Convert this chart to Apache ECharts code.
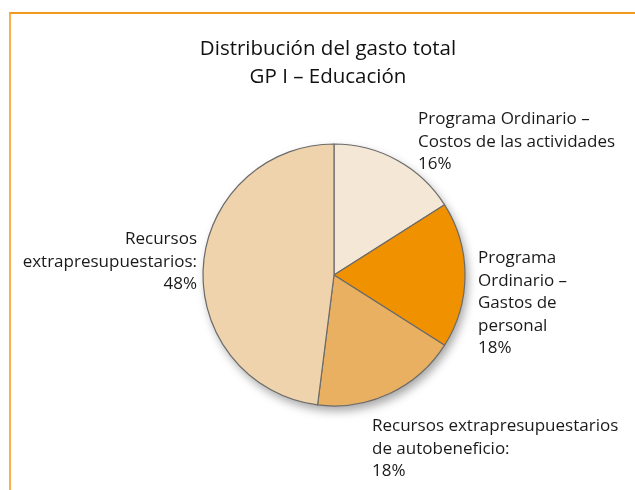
<!DOCTYPE html>
<html>
<head>
<meta charset="utf-8">
<script src="https://cdn.jsdelivr.net/npm/echarts@6/dist/echarts.min.js"></script>
<style>
  html, body { margin: 0; padding: 0; background: #fff; }
  #frame {
    position: absolute; left: 9px; top: 12px; width: 626px; height: 478px;
    border-top: 2px solid #F39A1E; border-left: 2px solid #F7B04A;
  }
  #chart { position: absolute; left: 0; top: 0; width: 635px; height: 490px; }
</style>
</head>
<body>
<div id="frame"></div>
<div id="chart"></div>
<script>
  // categorias y porcentajes
  var categories = [
    'Programa Ordinario –\nCostos de las actividades',
    'Programa\nOrdinario –\nGastos de\npersonal',
    'Recursos extrapresupuestarios\nde autobeneficio:',
    'Recursos\nextrapresupuestarios:'
  ]
  var values = [16, 18, 18, 48]
  var colors = ['#F5E7D6', '#F09100', '#E9B062', '#EFD3AD']

  // donde va cada etiqueta
  var labelPos = [
    {x: 418, y: 108, align: 'left'},
    {x: 478, y: 247, align: 'left'},
    {x: 372, y: 415, align: 'left'},
    {x: 197, y: 228, align: 'right'}
  ]

  var chart = echarts.init(document.getElementById('chart'))

  chart.setOption({
    animation: false,
    title: {
      text: 'Distribución del gasto total\nGP I – Educación',
      left: 323,
      top: 30,
      textAlign: 'center',
      textStyle: {
        fontFamily: 'Open Sans',
        fontSize: 20.5,
        fontWeight: 'normal',
        color: '#111',
        lineHeight: 28
      }
    },
    series: [
      {
        // sombra del pastel
        type: 'pie',
        center: [334, 275],
        radius: 131,
        silent: true,
        z: 1,
        label: {show: false},
        labelLine: {show: false},
        itemStyle: {
          color: '#EFD3AD',
          shadowBlur: 10,
          shadowColor: 'rgba(0, 0, 0, 0.35)',
          shadowOffsetX: 3,
          shadowOffsetY: 5
        },
        data: [{value: 1, name: ''}]
      },
      {
        type: 'pie',
        center: [334, 275],
        radius: 131,
        startAngle: 90,
        clockwise: true,
        z: 2,
        itemStyle: {
          borderColor: '#6b6b6b',
          borderWidth: 1.2
        },
        label: {
          show: true,
          position: 'outside',
          overflow: 'none',
          fontFamily: 'Open Sans',
          fontSize: 17,
          lineHeight: 22.5,
          color: '#1a1a1a',
          formatter: function (p) {
            return p.name + '\n' + p.value + '%'
          }
        },
        labelLine: {show: false},
        labelLayout: function (p) {
          var lp = labelPos[p.dataIndex]
          return {x: lp.x, y: lp.y, align: lp.align, verticalAlign: 'top'}
        },
        data: categories.map(function (c, i) {
          return {name: c, value: values[i], itemStyle: {color: colors[i]}}
        })
      }
    ]
  })
</script>
</body>
</html>
